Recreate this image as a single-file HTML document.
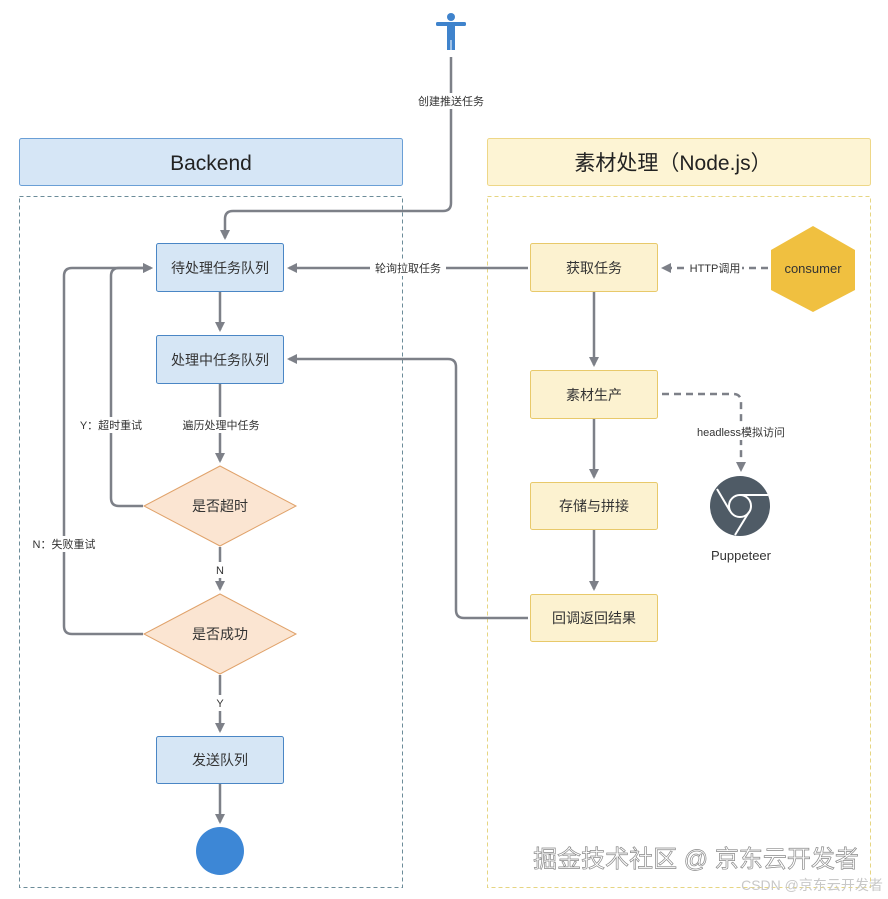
<!DOCTYPE html>
<html><head><meta charset="utf-8"><style>
html,body{margin:0;padding:0;background:#fff;}
svg{display:block;}
text{font-family:"Liberation Sans","Noto Sans CJK SC",sans-serif;fill:#333;}
</style></head><body>
<svg width="888" height="899" viewBox="0 0 888 899" xmlns="http://www.w3.org/2000/svg">
<defs>
<marker id="ar" viewBox="0 0 10 10" refX="8" refY="5" markerWidth="4" markerHeight="4" orient="auto-start-reverse"><path d="M0,0 L10,5 L0,10 z" fill="#7d8088"/></marker>
</defs>
<rect x="19.5" y="138.5" width="383" height="47" rx="2" fill="#d6e6f6" stroke="#6a9fd6"/>
<text x="211" y="170" font-size="21" text-anchor="middle" style="fill:#222">Backend</text>
<rect x="487.5" y="138.5" width="383" height="47" rx="2" fill="#fdf4d4" stroke="#eed787"/>
<text x="673" y="170" font-size="21" text-anchor="middle" style="fill:#222">素材处理（Node.js）</text>
<rect x="19.5" y="196.5" width="383" height="691" fill="none" stroke="#6c8c99" stroke-dasharray="4,3"/>
<rect x="487.5" y="196.5" width="383" height="691" fill="none" stroke="#e6d582" stroke-dasharray="4,3"/>
<g fill="#3f83cc">
<circle cx="451" cy="17" r="4"/>
<rect x="436" y="22" width="30" height="4" rx="1.5"/>
<rect x="447" y="22" width="8" height="18" rx="2"/>
<rect x="447" y="36" width="3.5" height="14"/>
<rect x="451.5" y="36" width="3.5" height="14"/>
</g>
<g fill="none" stroke="#7d8088" stroke-width="2.5">
<path d="M451,57 V203 Q451,211 443,211 H233 Q225,211 225,219 V238" marker-end="url(#ar)"/>
<path d="M528,268 H289" marker-end="url(#ar)"/>
<path d="M220,292 V330" marker-end="url(#ar)"/>
<path d="M220,384 V461" marker-end="url(#ar)"/>
<path d="M220,547 V589" marker-end="url(#ar)"/>
<path d="M220,675 V731" marker-end="url(#ar)"/>
<path d="M220,784 V822" marker-end="url(#ar)"/>
<path d="M143,506 H119 Q111,506 111,498 V276 Q111,268 119,268 H151" marker-end="url(#ar)"/>
<path d="M143,634 H72 Q64,634 64,626 V276 Q64,268 72,268 H151" marker-end="url(#ar)"/>
<path d="M594,292 V365" marker-end="url(#ar)"/>
<path d="M594,419 V477" marker-end="url(#ar)"/>
<path d="M594,530 V589" marker-end="url(#ar)"/>
<path d="M528,618 H464 Q456,618 456,610 V367 Q456,359 448,359 H289" marker-end="url(#ar)"/>
<path d="M768,268 H663" stroke-dasharray="7,5" marker-end="url(#ar)"/>
<path d="M662,394 H733 Q741,394 741,402 V470" stroke-dasharray="7,5" marker-end="url(#ar)"/>
</g>
<g font-size="11" text-anchor="middle">
<rect x="413" y="93" width="76" height="16" fill="#fff"/>
<text x="451" y="105">创建推送任务</text>
<rect x="370" y="260" width="76" height="16" fill="#fff"/>
<text x="408" y="272">轮询拉取任务</text>
<rect x="688" y="260" width="54" height="16" fill="#fff"/>
<text x="715" y="272">HTTP调用</text>
<rect x="692" y="424" width="98" height="16" fill="#fff"/>
<text x="741" y="436">headless模拟访问</text>
<rect x="176" y="417" width="90" height="16" fill="#fff"/>
<text x="221" y="429">遍历处理中任务</text>
<rect x="77" y="417" width="68" height="16" fill="#fff"/>
<text x="111" y="429">Y：超时重试</text>
<rect x="29" y="536" width="70" height="16" fill="#fff"/>
<text x="64" y="548">N：失败重试</text>
<rect x="213" y="562" width="14" height="16" fill="#fff"/>
<text x="220" y="574">N</text>
<rect x="213" y="695" width="14" height="16" fill="#fff"/>
<text x="220" y="707">Y</text>
</g>
<g fill="#d6e6f5" stroke="#4a86c5" stroke-width="1">
<rect x="156.5" y="243.5" width="127" height="48" rx="2"/>
<rect x="156.5" y="335.5" width="127" height="48" rx="2"/>
<rect x="156.5" y="736.5" width="127" height="47" rx="2"/>
</g>
<g font-size="14" text-anchor="middle">
<text x="220" y="273">待处理任务队列</text>
<text x="220" y="365">处理中任务队列</text>
<text x="220" y="765">发送队列</text>
</g>
<g fill="#fbe5d2" stroke="#e0a26a">
<path d="M220,466 L296,506 L220,546 L144,506 Z"/>
<path d="M220,594 L296,634 L220,674 L144,634 Z"/>
</g>
<g font-size="14" text-anchor="middle">
<text x="220" y="511">是否超时</text>
<text x="220" y="639">是否成功</text>
</g>
<circle cx="220" cy="851" r="24" fill="#3d87d6"/>
<g fill="#fcf2d0" stroke="#e8c96a">
<rect x="530.5" y="243.5" width="127" height="48" rx="2"/>
<rect x="530.5" y="370.5" width="127" height="48" rx="2"/>
<rect x="530.5" y="482.5" width="127" height="47" rx="2"/>
<rect x="530.5" y="594.5" width="127" height="47" rx="2"/>
</g>
<g font-size="14" text-anchor="middle">
<text x="594" y="273">获取任务</text>
<text x="594" y="400">素材生产</text>
<text x="594" y="511">存储与拼接</text>
<text x="594" y="623">回调返回结果</text>
</g>
<path d="M813,226 L855,250 L855,290 L813,312 L771,290 L771,250 Z" fill="#f0c040"/>
<text x="813" y="273" font-size="13" text-anchor="middle">consumer</text>
<circle cx="740" cy="506" r="30" fill="#4f5b66"/>
<circle cx="740" cy="506" r="11" fill="none" stroke="#fff" stroke-width="2"/>
<g stroke="#fff" stroke-width="2">
<line x1="740" y1="495" x2="768" y2="495"/>
<line x1="730" y1="511" x2="717" y2="489"/>
<line x1="749" y1="512" x2="735" y2="535"/>
</g>
<text x="741" y="560" font-size="13" text-anchor="middle">Puppeteer</text>
<text x="696" y="867" font-size="24" text-anchor="middle" style="fill:#fff;stroke:#8a8a8a;stroke-width:0.7">掘金技术社区 @ 京东云开发者</text>
<text x="812" y="890" font-size="14" text-anchor="middle" style="fill:#c8c8c8">CSDN @京东云开发者</text>
</svg>
</body></html>
